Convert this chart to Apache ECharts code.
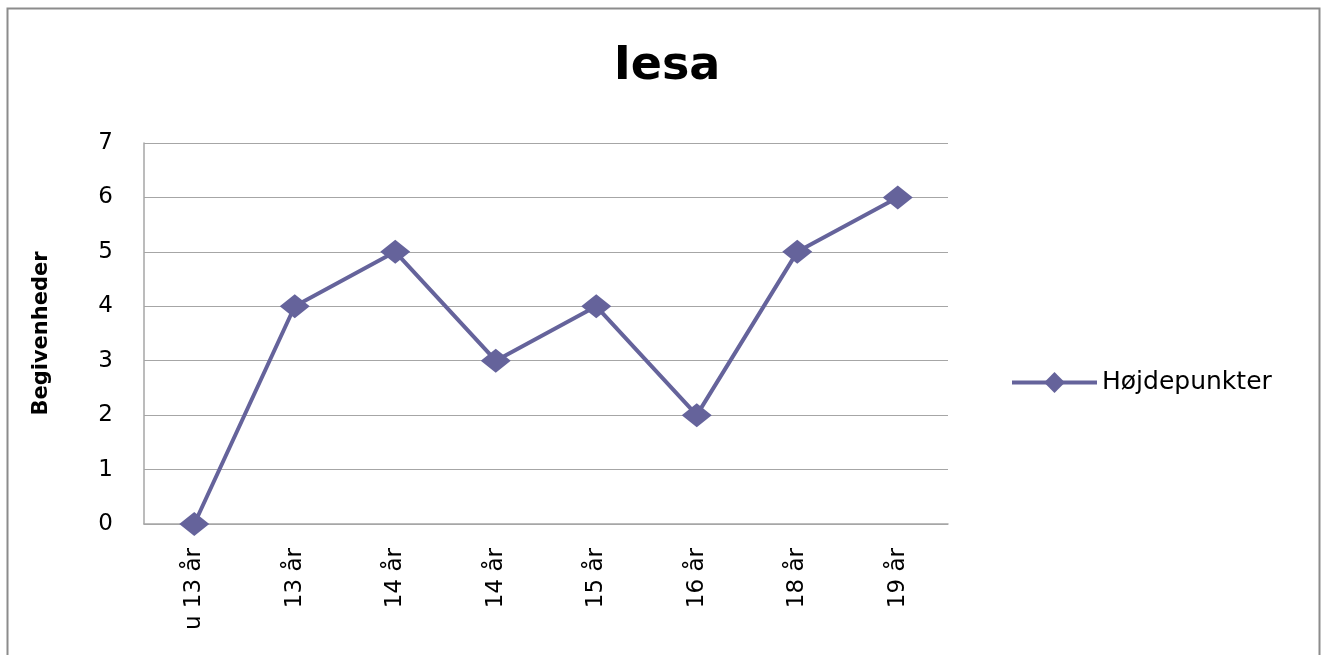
<!DOCTYPE html>
<html>
<head>
<meta charset="utf-8">
<script src="https://cdn.jsdelivr.net/npm/echarts@6/dist/echarts.min.js"></script>
<style>
    html, body { margin: 0; padding: 0; background: #fff; }
    #main { width: 1328px; height: 655px; }
</style>
</head>
<body>
<div id="main"></div>
<script>
// data
var categories = ['u 13 år', '13 år', '14 år', '14 år', '15 år', '16 år', '18 år', '19 år'];
var highlights = [0, 4, 5, 3, 4, 2, 5, 6];
var seriesName = 'Højdepunkter';
var chartTitle = 'Iesa';
var yName = 'Begivenheder';

var lineColor = '#65639b';
var font = 'DejaVu Sans';

var myChart = echarts.init(document.getElementById('main'));
var option;
option = {
    animation: false,
    backgroundColor: '#fff',
    graphic: [{
        type: 'rect',
        shape: { x: 7.5, y: 8.5, width: 1312, height: 700 },
        style: { fill: 'none', stroke: '#8c8c8c', lineWidth: 2 },
        silent: true
    }],
    title: {
        text: chartTitle,
        left: 662,
        textAlign: 'center',
        top: 39,
        textStyle: { fontFamily: font, fontSize: 46, fontWeight: 'bold', color: '#000' }
    },
    legend: {
        data: [seriesName],
        left: 1005,
        top: 365,
        itemWidth: 85,
        itemHeight: 26,
        itemGap: 6,
        lineStyle: { color: lineColor, width: 4 },
        itemStyle: { color: lineColor },
        textStyle: { fontFamily: font, fontSize: 25, color: '#000' }
    },
    grid: {
        left: 144,
        top: 143,
        right: 380,
        bottom: 131,
        containLabel: false
    },
    xAxis: {
        type: 'category',
        data: categories,
        boundaryGap: true,
        axisLine: { lineStyle: { color: '#a6a6a6', width: 1.5 } },
        axisTick: { show: false },
        axisLabel: {
            rotate: 90,
            margin: 24,
            fontFamily: font,
            fontSize: 23,
            color: '#000',
            interval: 0
        }
    },
    yAxis: {
        type: 'value',
        min: 0,
        max: 7,
        interval: 1,
        name: yName,
        nameLocation: 'middle',
        nameGap: 92,
        nameRotate: 90,
        nameTextStyle: { fontFamily: font, fontSize: 21, fontWeight: 'bold', color: '#000' },
        axisLine: { show: true, lineStyle: { color: '#a6a6a6', width: 1.5 } },
        axisTick: { show: false },
        splitLine: { lineStyle: { color: '#a6a6a6', width: 1.2 } },
        axisLabel: {
            margin: 31,
            fontFamily: font,
            fontSize: 23,
            color: '#000'
        }
    },
    series: [
        {
            name: seriesName,
            type: 'line',
            data: highlights,
            symbol: 'diamond',
            symbolSize: [30, 24],
            itemStyle: { color: lineColor },
            lineStyle: { color: lineColor, width: 4 }
        }
    ]
};

option && myChart.setOption(option);
</script>
</body>
</html>
